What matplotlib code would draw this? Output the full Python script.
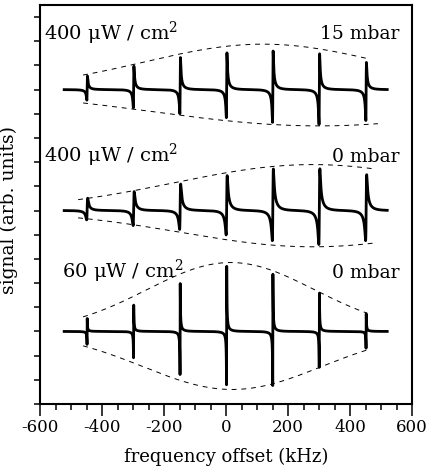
import numpy as np
import matplotlib
matplotlib.use("Agg")
import matplotlib.pyplot as plt
from matplotlib.ticker import MultipleLocator

plt.rcParams['font.family'] = ['DejaVu Serif']
plt.rcParams['mathtext.fontset'] = 'dejavuserif'
plt.rcParams['axes.unicode_minus'] = False

# ---- data ----
centers = [-448, -298, -148, 2, 151, 301, 452]          # resonance positions (kHz)

# panel 1: 400 uW/cm2, 15 mbar
top_pos = [0.58, 1.00, 1.37, 1.57, 1.65, 1.53, 1.16]
top_neg = [0.45, 0.78, 1.03, 1.20, 1.40, 1.49, 1.32]
top_width = 1.0
# panel 2: 400 uW/cm2, 0 mbar
mid_pos = [0.54, 0.83, 1.16, 1.53, 1.82, 1.83, 1.57]
mid_neg = [0.41, 0.66, 0.83, 1.07, 1.32, 1.49, 1.32]
mid_width = 1.8
# panel 3: 60 uW/cm2, 0 mbar
bot_pos = [0.54, 1.10, 2.00, 2.72, 2.39, 1.60, 0.74]
bot_neg = [0.54, 1.10, 1.80, 2.23, 2.26, 1.50, 0.70]
bot_width = 0.3
tail_length = 30.0    # kHz, decay of the line wings

baselines = [13, 8, 3]
scan_range = [-522, 520]

# Gaussian envelopes: (center, height, sigma, x_start, x_end)
top_env_up = (120, 1.88, 385, -461, 455)
top_env_lo = (300, -1.50, 538, -461, 490)
mid_env_up = (280, 1.90, 446, -477, 474)
mid_env_lo = (280, -1.50, 423, -477, 487)
bot_env_up = (15, 2.85, 270, -461, 455)
bot_env_lo = (20, -2.40, 288, -461, 455)

labels_left = ["400 μW / cm$^2$", "400 μW / cm$^2$", "60 μW / cm$^2$"]
labels_right = ["15 mbar", "0 mbar", "0 mbar"]


def spectrum(x, pos, neg, width):
    y = np.zeros_like(x)
    for c, p, n in zip(centers, pos, neg):
        u = (x - c) / width
        d = 2 * u / (1 + u ** 2) * np.exp(-np.abs(x - c) / tail_length)
        y += np.where(x > c, p, n) * d
    return y


def envelope(params):
    c, h, s, x0, x1 = params
    xe = np.linspace(x0, x1, 400)
    return xe, h * np.exp(-(xe - c) ** 2 / (2 * s ** 2))


fig = plt.figure(figsize=(4.27, 4.74), dpi=100)
ax = fig.add_axes([0.0937, 0.1477, 0.8712, 0.8418])

x = np.linspace(scan_range[0], scan_range[1], 80001)
panels = [
    (top_pos, top_neg, top_width, top_env_up, top_env_lo),
    (mid_pos, mid_neg, mid_width, mid_env_up, mid_env_lo),
    (bot_pos, bot_neg, bot_width, bot_env_up, bot_env_lo),
]
for base, (pos, neg, w, eu, el) in zip(baselines, panels):
    ax.plot(x, base + spectrum(x, pos, neg, w), color='black', lw=2.0,
            solid_joinstyle='round')
    for env in (eu, el):
        xe, ye = envelope(env)
        ax.plot(xe, base + ye, color='black', lw=0.7, ls=(0, (5, 5)))

label_y = [15.08, 10.0, 5.2]
label_x = [-586, -586, -530]
for ly, lx, tl, tr in zip(label_y, label_x, labels_left, labels_right):
    ax.text(lx, ly, tl, fontsize=14, ha='left', va='baseline')
    ax.text(560, ly, tr, fontsize=13.5, ha='right', va='baseline')

ax.set_xlim(-600, 600)
ax.set_ylim(0, 16.5)
ax.xaxis.set_major_locator(MultipleLocator(200))
ax.xaxis.set_minor_locator(MultipleLocator(50))
ax.yaxis.set_major_locator(MultipleLocator(1))
ax.tick_params(axis='x', which='major', direction='out', length=8.6, width=1.1,
               labelsize=12, pad=2)
ax.tick_params(axis='x', which='minor', direction='out', length=4.3, width=1.1)
ax.tick_params(axis='y', which='major', direction='out', length=4.3, width=1.1,
               labelleft=False)
for sp in ax.spines.values():
    sp.set_linewidth(1.5)

ax.set_xlabel("frequency offset (kHz)", fontsize=13, labelpad=9)
ax.set_ylabel("signal (arb. units)", fontsize=13.5)
ax.yaxis.set_label_coords(-0.058, 0.485)

fig.savefig("out.png", dpi=100)
